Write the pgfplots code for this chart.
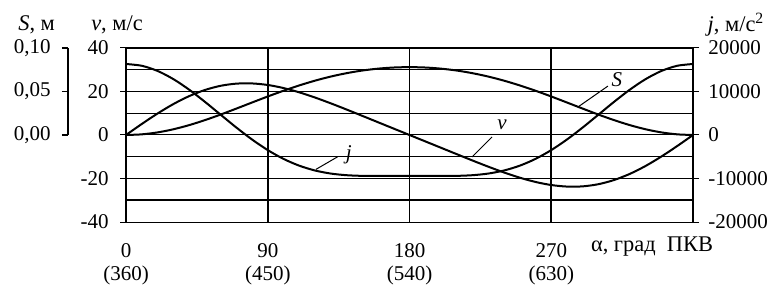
\documentclass[border=0pt]{standalone}
\usepackage{fontspec}
\setmainfont{Liberation Serif}
\usepackage{pgfplots}
\pgfplotsset{compat=1.18}
\usepackage{pgfplotstable}

\pgfplotstableread{
a S v j
0 0 0 16320
10 0.00075 5.06 15915
20 0.00297 9.86 14733
30 0.00654 14.19 12863
40 0.01130 17.84 10446
50 0.01702 20.67 7657
60 0.02345 22.61 4690
70 0.03031 23.61 1737
80 0.03733 23.71 -1029
90 0.04427 23.00 -3470
100 0.05088 21.59 -5491
110 0.05699 19.62 -7052
120 0.06245 17.23 -8160
130 0.06716 14.56 -8863
140 0.07105 11.73 -9240
150 0.07409 8.81 -9393
160 0.07626 5.87 -9418
170 0.07757 2.93 -9395
180 0.07800 0 -9381
190 0.07757 -2.93 -9395
200 0.07626 -5.87 -9418
210 0.07409 -8.81 -9393
220 0.07105 -11.73 -9240
230 0.06716 -14.56 -8863
240 0.06245 -17.23 -8160
250 0.05699 -19.62 -7052
260 0.05088 -21.59 -5491
270 0.04427 -23.00 -3470
280 0.03733 -23.71 -1029
290 0.03031 -23.61 1737
300 0.02345 -22.61 4690
310 0.01702 -20.67 7657
320 0.01130 -17.84 10446
330 0.00654 -14.19 12863
340 0.00297 -9.86 14733
350 0.00075 -5.06 15915
360 0 0 16320
}\kin

\begin{document}
\fontsize{10.5}{11.5}\selectfont
\begin{tikzpicture}
\useasboundingbox (-63pt,-33.5pt) rectangle (327pt,111pt);
\pgfplotsset{
  base/.style={scale only axis, width=283.5pt, height=87pt, at={(0,0)}, anchor=south west,
    xmin=0, xmax=360, /pgf/number format/assume math mode=true,
    axis line style={draw=none}, tick align=outside, major tick length=3pt,
    tick style={black, line width=0.5pt}},
  curve/.style={black, line width=1pt, smooth},
}
\begin{axis}[base, name=main, ymin=-40, ymax=40,
  ytick={-40,-20,0,20,40}, ytick pos=left,
  minor ytick={-30,-10,10,30}, minor tick length=0pt,
  ymajorgrids, yminorgrids,
  xtick={0,90,180,270,360},
  xticklabels={{0\\(360)},{90\\(450)},{180\\(540)},{270\\(630)},{}},
  xmajorgrids, xtick style={draw=none},
  xticklabel style={align=center, yshift=-4pt},
  yticklabel style={xshift=-2pt},
  grid style={black, line width=0.5pt},
  minor grid style={black, line width=0.5pt},
  extra y ticks={-30,40}, extra y tick labels={},
  extra x ticks={0,90,270,360}, extra x tick labels={},
  extra tick style={grid style={black, line width=1pt}, major tick length=0pt},
]
\addplot[curve] table[x=a, y=v] {\kin};
\addplot[curve] table[x=a, y expr=\thisrow{S}*400] {\kin};
\draw[line width=0.5pt] (axis cs:287,12.9) -- (axis cs:306,22.5);
\node[font=\itshape] at (axis cs:311.7,25.3) {S};
\draw[line width=0.5pt] (axis cs:219.7,-10.1) -- (axis cs:232.4,-0.9);
\node[font=\itshape] at (axis cs:238.7,4.6) {v};
\draw[line width=0.5pt] (axis cs:120.6,-15.8) -- (axis cs:134.4,-10);
\node[font=\itshape] at (axis cs:141.4,-9.2) {j};
\end{axis}

\begin{axis}[base, ymin=-20000, ymax=20000,
  ytick={-20000,-10000,0,10000,20000}, ytick pos=right,
  xtick=\empty, scaled y ticks=false,
  yticklabel style={/pgf/number format/1000 sep={}, anchor=west, xshift=1pt},
]
\addplot[curve] table[x=a, y=j] {\kin};
\end{axis}

\begin{axis}[scale only axis, width=5pt, height=43.5pt, at={(-29pt,43.5pt)}, anchor=south west,
  xmin=0, xmax=1, ymin=0, ymax=0.1,
  axis x line=none, axis y line*=left,
  y axis line style={line width=0.8pt},
  ytick={0,0.05,0.1}, tick align=outside, major tick length=3pt,
  tick style={black, line width=0.8pt},
  yticklabel style={xshift=-2pt, /pgf/number format/.cd, fixed, fixed zerofill, precision=2, use comma, assume math mode=true},
]
\addplot[draw=none] coordinates {(0,0)};
\end{axis}

\begin{scope}[font=\fontsize{11.2}{12}\selectfont]
\node at (-44.7pt,98.5pt) {\textit{S}, м};
\node at (-4.5pt,98.5pt) {\textit{v}, м/с};
\node at (305pt,98.5pt) {\textit{j}, м/с\textsuperscript{2}};
\node at (263pt,-12.5pt) {α, град~~ПКВ};
\end{scope}
\end{tikzpicture}
\end{document}
